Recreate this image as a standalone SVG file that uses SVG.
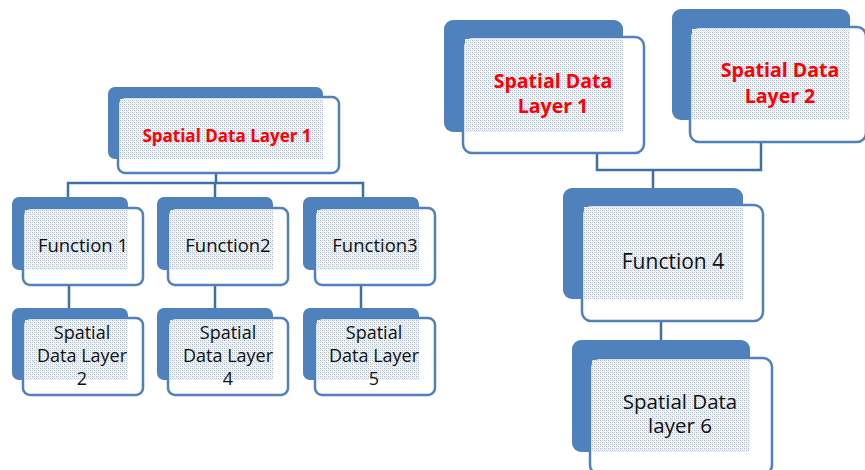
<svg xmlns="http://www.w3.org/2000/svg" width="865" height="470" viewBox="0 0 865 470">
<defs>
<pattern id="dots" width="4" height="4" patternUnits="userSpaceOnUse">
<rect width="4" height="4" fill="#f4f6f9"/>
<rect x="0" y="0" width="1" height="1" fill="#a8b8cc"/>
<rect x="2" y="2" width="1" height="1" fill="#a8b8cc"/>
<rect x="2" y="0" width="1" height="1" fill="#c9d4e2"/>
<rect x="0" y="2" width="1" height="1" fill="#c9d4e2"/>
<rect x="1" y="1" width="1" height="1" fill="#dfe6ef"/>
<rect x="3" y="3" width="1" height="1" fill="#dfe6ef"/>
</pattern>
</defs>
<style>
.back{fill:#4f81bd;}
.front{fill:#ffffff;stroke:#4f81bd;stroke-width:2.5;}
.tex{fill:url(#dots);}
.conn{fill:none;stroke:#3f6fa9;stroke-width:2.5;}
.t{font-family:"Open Sans","Noto Sans","Liberation Sans",sans-serif;fill:#111111;text-anchor:middle;}
.r{font-family:"Open Sans","Noto Sans","Liberation Sans",sans-serif;fill:#ff0000;font-weight:bold;text-anchor:middle;}
</style>
<g id="connectors">
<path class="conn" d="M216 173 V183 M68 197 V183 H363 V197 M215 183 V197"/>
<path class="conn" d="M69 285 V308 M215 285 V308 M361 285 V308"/>
<path class="conn" d="M597 153 V170 H761 V142 M653 170 V188"/>
<path class="conn" d="M661 321 V340"/>
</g>
<g id="sdl1-left">
<rect class="back" x="108" y="87" width="215" height="72" rx="7"/>
<rect class="front" x="118" y="97" width="221" height="76" rx="7"/>
<rect class="tex" x="120" y="99" width="203" height="60"/>
<text class="r" x="227" y="142" font-size="17">Spatial Data Layer 1</text>
</g>
<g id="function1">
<rect class="back" x="12" y="197" width="116" height="73" rx="7"/>
<rect class="front" x="23" y="208" width="120" height="77" rx="7"/>
<rect class="tex" x="25" y="210" width="103" height="60"/>
<text class="t" x="83" y="252" font-size="18.5">Function 1</text>
</g>
<g id="function2">
<rect class="back" x="157" y="197" width="116" height="73" rx="7"/>
<rect class="front" x="168" y="208" width="120" height="77" rx="7"/>
<rect class="tex" x="170" y="210" width="103" height="60"/>
<text class="t" x="228" y="252" font-size="18.5">Function2</text>
</g>
<g id="function3">
<rect class="back" x="303" y="197" width="116" height="73" rx="7"/>
<rect class="front" x="315" y="208" width="120" height="77" rx="7"/>
<rect class="tex" x="317" y="210" width="102" height="60"/>
<text class="t" x="375" y="252" font-size="18.5">Function3</text>
</g>
<g id="sdl2">
<rect class="back" x="12" y="308" width="116" height="72" rx="7"/>
<rect class="front" x="23" y="318" width="120" height="77" rx="7"/>
<rect class="tex" x="25" y="320" width="103" height="60"/>
<text class="t" x="82" y="339" font-size="18">Spatial</text>
<text class="t" x="82" y="362" font-size="18">Data Layer</text>
<text class="t" x="82" y="385" font-size="18">2</text>
</g>
<g id="sdl4">
<rect class="back" x="157" y="308" width="116" height="72" rx="7"/>
<rect class="front" x="168" y="318" width="120" height="77" rx="7"/>
<rect class="tex" x="170" y="320" width="103" height="60"/>
<text class="t" x="228" y="339" font-size="18">Spatial</text>
<text class="t" x="228" y="362" font-size="18">Data Layer</text>
<text class="t" x="228" y="385" font-size="18">4</text>
</g>
<g id="sdl5">
<rect class="back" x="303" y="308" width="116" height="72" rx="7"/>
<rect class="front" x="315" y="318" width="120" height="77" rx="7"/>
<rect class="tex" x="317" y="320" width="102" height="60"/>
<text class="t" x="374" y="339" font-size="18">Spatial</text>
<text class="t" x="374" y="362" font-size="18">Data Layer</text>
<text class="t" x="374" y="385" font-size="18">5</text>
</g>
<g id="sdl1-right">
<rect class="back" x="444" y="20" width="179" height="112" rx="9"/>
<rect class="front" x="463" y="37" width="181" height="116" rx="9"/>
<rect class="tex" x="465" y="39" width="158" height="93"/>
<text class="r" x="553" y="88" font-size="19.5">Spatial Data</text>
<text class="r" x="553" y="113" font-size="19.5">Layer 1</text>
</g>
<g id="sdl2-right">
<rect class="back" x="672" y="9" width="178" height="111" rx="9"/>
<rect class="front" x="690" y="27" width="176" height="115" rx="9"/>
<rect class="tex" x="692" y="29" width="158" height="91"/>
<text class="r" x="780" y="77" font-size="19.5">Spatial Data</text>
<text class="r" x="780" y="103" font-size="19.5">Layer 2</text>
</g>
<g id="function4">
<rect class="back" x="563" y="188" width="180" height="111" rx="9"/>
<rect class="front" x="582" y="205" width="181" height="116" rx="9"/>
<rect class="tex" x="584" y="207" width="159" height="92"/>
<text class="t" x="673" y="269" font-size="21">Function 4</text>
</g>
<g id="sdl6">
<rect class="back" x="572" y="340" width="178" height="112" rx="9"/>
<rect class="front" x="590" y="358" width="182" height="116" rx="9"/>
<rect class="tex" x="592" y="360" width="158" height="92"/>
<text class="t" x="680" y="409" font-size="20.5">Spatial Data</text>
<text class="t" x="680" y="433" font-size="20.5">layer 6</text>
</g>
</svg>
